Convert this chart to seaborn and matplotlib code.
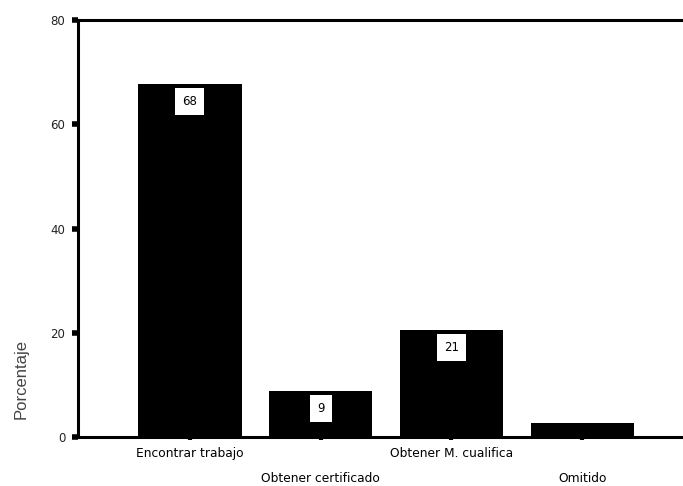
import matplotlib
matplotlib.use("Agg")
import matplotlib.pyplot as plt
import seaborn as sns
import pandas as pd

categories = ["Encontrar trabajo", "Obtener certificado", "Obtener M. cualifica", "Omitido"]
values = [67.8, 8.9, 20.6, 2.7]
bar_labels = ["68", "9", "21", ""]
y_ticks = [0, 20, 40, 60, 80]

sns.set_theme(style="white")
plt.rcParams["font.family"] = ["DejaVu Sans"]

fig = plt.figure(figsize=(6.83, 4.86), dpi=100)
ax = fig.add_axes([0.1142, 0.1008, 0.8858 + 0.002, 0.858])

df = pd.DataFrame({"cat": categories, "val": values})
sns.barplot(data=df, x="cat", y="val", color="black", width=0.79, ax=ax,
            saturation=1, edgecolor="black", linewidth=0)

ax.set_ylim(0, 80)
ax.set_xlim(-0.855, 3.78)
ax.set_yticks(y_ticks)
ax.set_yticklabels([str(t) for t in y_ticks], fontsize=8.5, color="#222222")

for s in ["left", "bottom", "top"]:
    ax.spines[s].set_visible(True)
    ax.spines[s].set_color("black")
    ax.spines[s].set_linewidth(2.2)
ax.spines["right"].set_visible(False)

ax.tick_params(axis="y", direction="out", length=4, width=4, color="black", pad=5, left=True)
ax.tick_params(axis="x", direction="out", length=2, width=3, color="black", pad=5, bottom=True)

ax.set_xlabel("")
ax.set_ylabel("Porcentaje", fontsize=12, color="#444444",
              fontfamily="Liberation Sans")
ax.yaxis.set_label_coords(-0.082, 0.14)

ax.set_xticks(range(len(categories)))
ax.set_xticklabels(categories, fontsize=8.8, color="black")
for i, tick in enumerate(ax.xaxis.get_major_ticks()):
    if i % 2 == 1:
        tick.set_pad(23)

for i, (v, lab) in enumerate(zip(values, bar_labels)):
    if lab:
        ax.annotate(lab, xy=(i, v), xytext=(0, -8), textcoords="offset points",
                    ha="center", va="top", fontsize=8.5, color="black",
                    bbox=dict(boxstyle="square,pad=0.6", fc="white", ec="none"))

fig.savefig("out.png", dpi=100)
